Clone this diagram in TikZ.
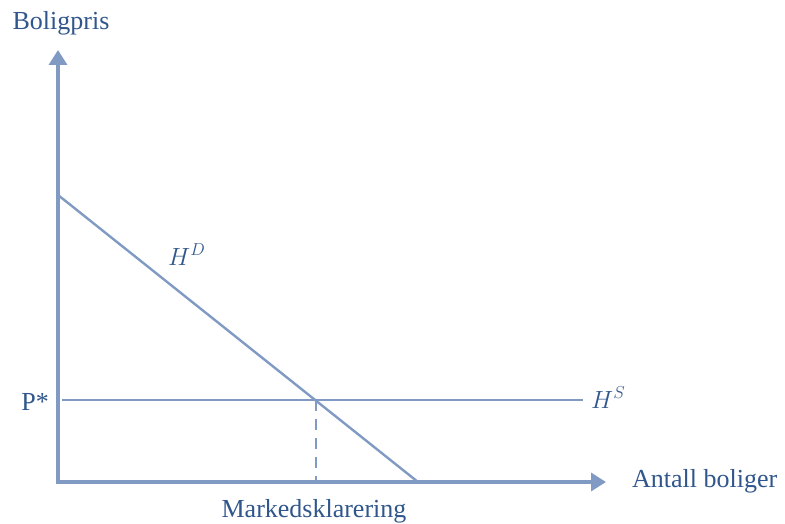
\documentclass[tikz,border=0pt]{standalone}
\usepackage{fontspec}
\setmainfont{Liberation Serif}
\usetikzlibrary{arrows.meta}
\definecolor{axcol}{RGB}{128,154,196}
\definecolor{txtcol}{RGB}{48,86,140}
\begin{document}
\begin{tikzpicture}[x=1pt,y=-1pt,
  axis/.style={draw=axcol,line width=3.4pt,-{Triangle[length=15pt,width=18pt]}},
  curve/.style={draw=axcol,line width=2.4pt},
  lab/.style={text=txtcol,font=\fontsize{26}{30}\selectfont,inner sep=0pt}]
\useasboundingbox (0,0) rectangle (785,524);
\coordinate (O) at (58,482);
\coordinate (ytip) at (58,50);
\coordinate (xtip) at (606,482);
\coordinate (dtop) at (58,195);
\coordinate (dbot) at (418,482);
\coordinate (sl) at (62,400);
\coordinate (sr) at (583,400);
\coordinate (eq) at (316,400);
\coordinate (eqb) at (316,482);
\draw[axis] ([yshift=1.7pt]O) -- (ytip);
\draw[axis] ([xshift=-1.7pt]O) -- (xtip);
\draw[curve] (dtop) -- (dbot);
\draw[curve] (sl) -- (sr);
\draw[curve,dash pattern=on 11pt off 8pt] (eq) -- (eqb);
\node[lab,anchor=base] (ylab) at (61,30) {Boligpris};
\node[lab,anchor=base east] (pstar) at (49,410) {P*};
\node[lab,anchor=base west] (xlab) at (632,487) {Antall boliger};
\node[lab,anchor=base] (mk) at (314,517) {Markedsklarering};
\node[lab,anchor=base west] (hd) at (168,265) {$H^D$};
\node[lab,anchor=base west] (hs) at (591,408) {$H^S$};
\end{tikzpicture}
\end{document}
